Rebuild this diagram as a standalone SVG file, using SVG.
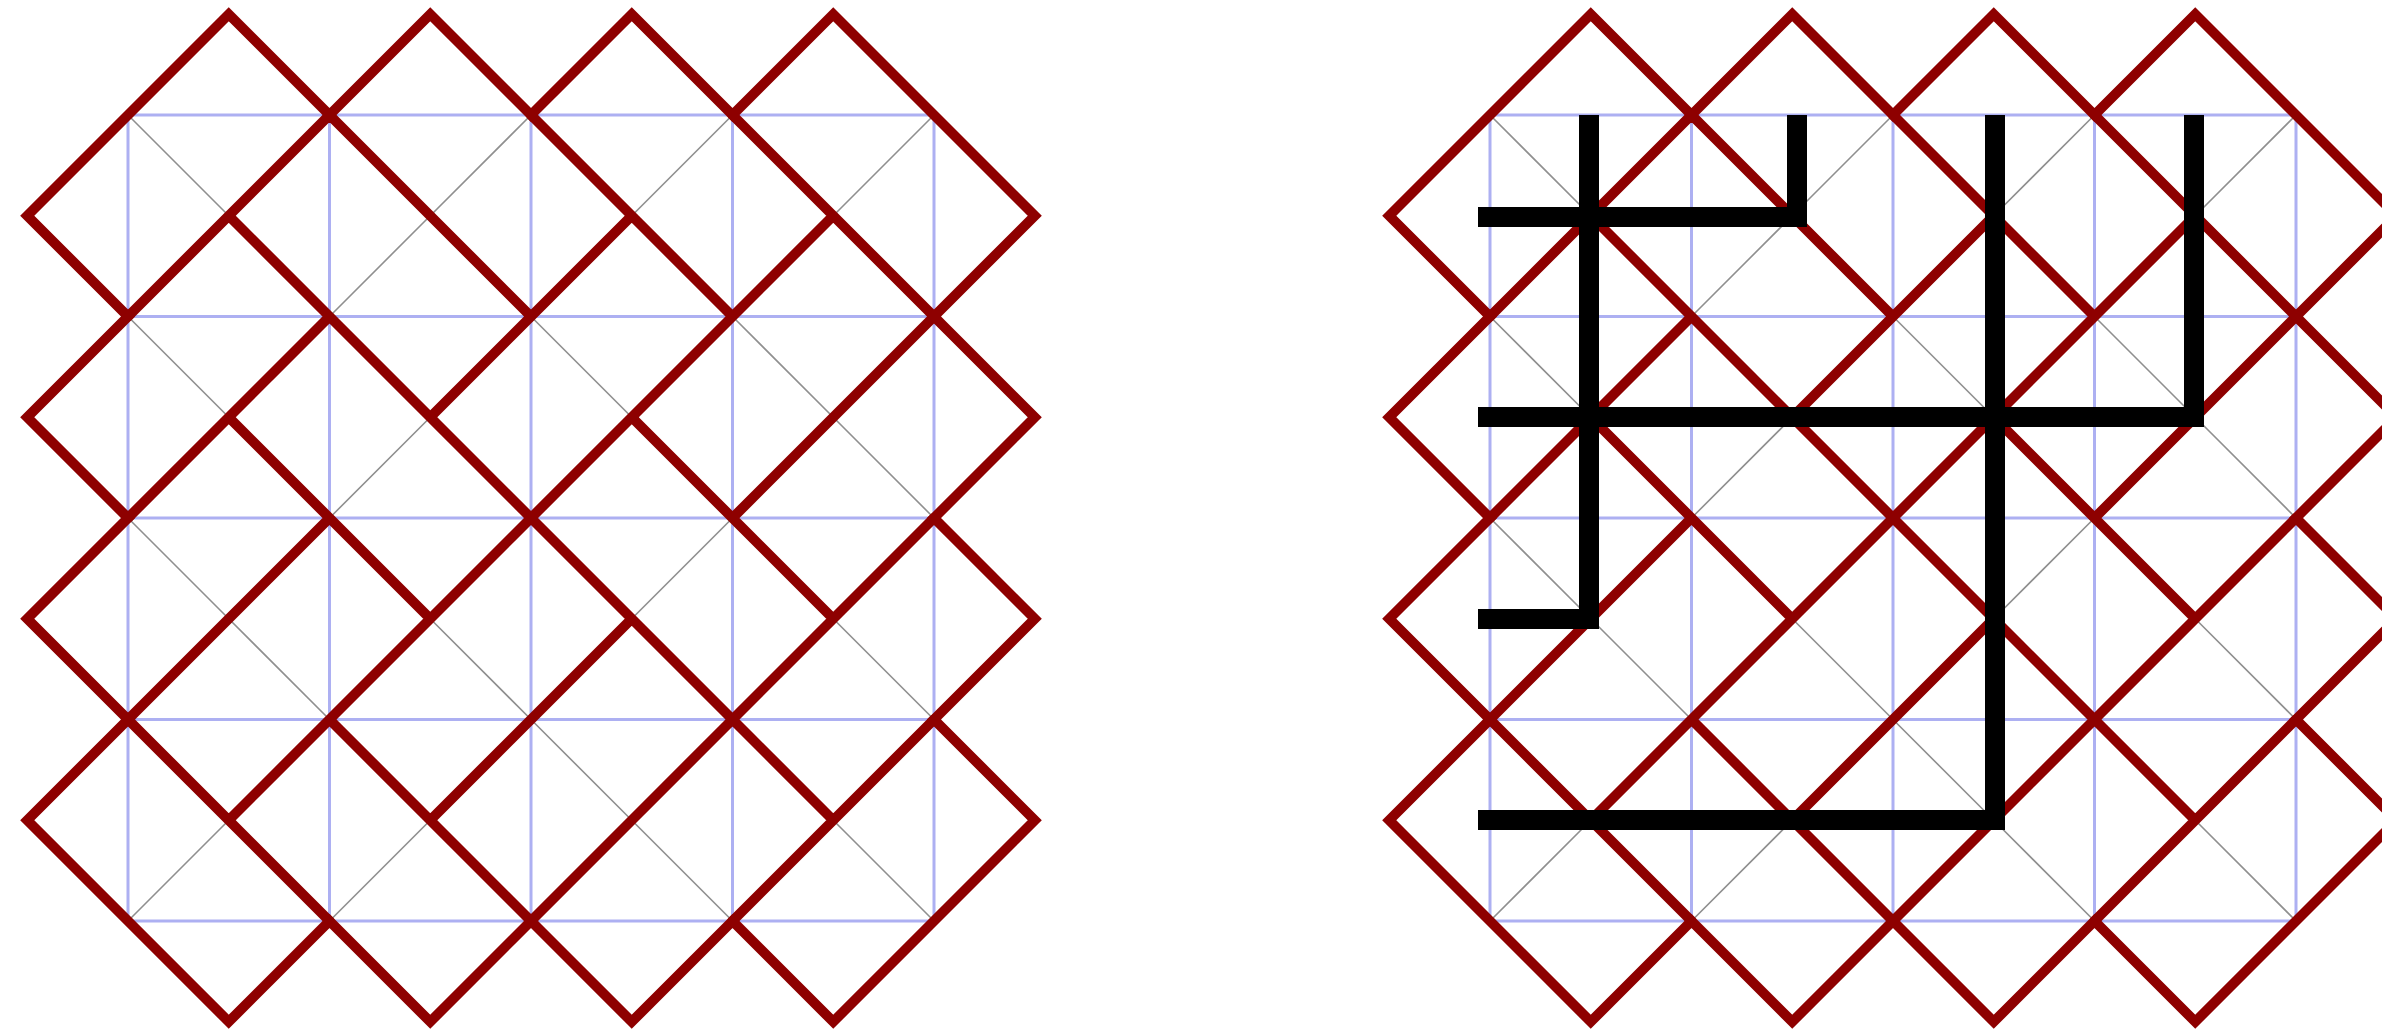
<svg xmlns="http://www.w3.org/2000/svg" width="2382" height="1034" viewBox="0 0 2382 1034">
<style>
.grid{stroke:#adb0f2;stroke-width:3;fill:none}
.diag{stroke:#8f8f8f;stroke-width:1.6;fill:none}
.wall{stroke:#8e0000;stroke-width:10;fill:none;stroke-linejoin:miter;stroke-linecap:round}
.outer{stroke:#8e0000;stroke-width:10;fill:none;stroke-linejoin:miter}
.tree{stroke:#000;stroke-width:20;fill:none;stroke-linejoin:miter;stroke-linecap:butt}
</style>
<defs>
<g id="lattice">
<path class="grid" d="M0 0V806M201.5 0V806M403 0V806M604.5 0V806M806 0V806M0 0H806M0 201.5H806M0 403H806M0 604.5H806M0 806H806"/>
<path class="diag" d="M100.75 100.75L0 0M302.25 100.75L403 0M302.25 100.75L201.5 201.5M503.75 100.75L604.5 0M705.25 100.75L806 0M100.75 302.25L0 201.5M302.25 302.25L201.5 403M503.75 302.25L403 201.5M705.25 302.25L604.5 201.5M705.25 302.25L806 403M100.75 503.75L0 403M100.75 503.75L201.5 604.5M302.25 503.75L403 604.5M503.75 503.75L604.5 403M705.25 503.75L806 604.5M100.75 705.25L0 806M302.25 705.25L201.5 806M503.75 705.25L403 604.5M503.75 705.25L604.5 806M705.25 705.25L806 806"/>
<path class="wall" d="M100.75 100.75L201.5 0M100.75 100.75L0 201.5M100.75 100.75L201.5 201.5M302.25 100.75L201.5 0M302.25 100.75L403 201.5M503.75 100.75L403 0M503.75 100.75L403 201.5M503.75 100.75L604.5 201.5M705.25 100.75L604.5 0M705.25 100.75L604.5 201.5M705.25 100.75L806 201.5M100.75 302.25L201.5 201.5M100.75 302.25L0 403M100.75 302.25L201.5 403M302.25 302.25L201.5 201.5M302.25 302.25L403 201.5M302.25 302.25L403 403M503.75 302.25L604.5 201.5M503.75 302.25L403 403M503.75 302.25L604.5 403M705.25 302.25L806 201.5M705.25 302.25L604.5 403M100.75 503.75L201.5 403M100.75 503.75L0 604.5M302.25 503.75L201.5 403M302.25 503.75L403 403M302.25 503.75L201.5 604.5M503.75 503.75L403 403M503.75 503.75L403 604.5M503.75 503.75L604.5 604.5M705.25 503.75L604.5 403M705.25 503.75L806 403M705.25 503.75L604.5 604.5M100.75 705.25L0 604.5M100.75 705.25L201.5 604.5M100.75 705.25L201.5 806M302.25 705.25L201.5 604.5M302.25 705.25L403 604.5M302.25 705.25L403 806M503.75 705.25L604.5 604.5M503.75 705.25L403 806M705.25 705.25L604.5 604.5M705.25 705.25L806 604.5M705.25 705.25L604.5 806"/>
<polygon class="outer" points="-100.75,100.75 100.75,-100.75 201.5,0 302.25,-100.75 403,0 503.75,-100.75 604.5,0 705.25,-100.75 906.75,100.75 806,201.5 906.75,302.25 806,403 906.75,503.75 806,604.5 906.75,705.25 705.25,906.75 604.5,806 503.75,906.75 403,806 302.25,906.75 201.5,806 100.75,906.75 -100.75,705.25 0,604.5 -100.75,503.75 0,403 -100.75,302.25 0,201.5"/>
</g>
</defs>
<rect width="2382" height="1034" fill="#ffffff"/>
<g id="left-panel">
<use href="#lattice" transform="translate(128,115)"/>
</g>
<g id="right-panel">
<use href="#lattice" transform="translate(1490,115)"/>
</g>
<g id="connectors">
<polyline class="tree" points="1589,115 1589,619 1478,619"/>
<polyline class="tree" points="1478,217 1797,217 1797,115"/>
<polyline class="tree" points="1478,417 2194,417 2194,115"/>
<polyline class="tree" points="1995,115 1995,820 1478,820"/>
</g>
</svg>
